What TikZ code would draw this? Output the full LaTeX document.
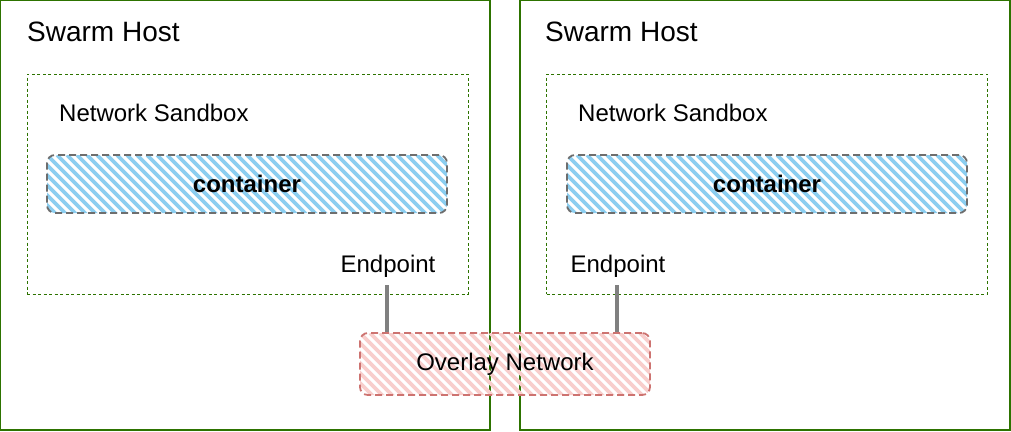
\documentclass[tikz,border=0pt]{standalone}
\usepackage{fontspec}
\setmainfont{Liberation Sans}
\definecolor{hostgreen}{RGB}{45,115,0}
\definecolor{hatchblue}{RGB}{140,206,240}
\definecolor{hatchpink}{RGB}{248,206,204}
\definecolor{ovborder}{RGB}{205,115,112}
\definecolor{cborder}{RGB}{110,110,110}
\definecolor{conngray}{RGB}{128,128,128}
\tikzset{
  host/.style={draw=hostgreen, line width=1.3pt, minimum width=490pt, minimum height=430pt, inner sep=0pt},
  sandbox/.style={draw=hostgreen, line width=0.9pt, dash pattern=on 3pt off 2.5pt, minimum width=441pt, minimum height=220pt, inner sep=0pt},
  hatch/.style={path picture={\foreach \i in {-80,-70,...,420}{\draw[solid, line width=3.6pt, line cap=butt, #1] ([xshift=\i pt]path picture bounding box.north west) -- ++(80,80);}}},
  cont/.style={hatch=hatchblue, draw=cborder, line width=1.8pt, dash pattern=on 7pt off 4pt, rounded corners=8pt, minimum width=400pt, minimum height=58pt, inner sep=0pt, font=\fontsize{24}{28}\selectfont\bfseries},
  overlay/.style={hatch=hatchpink, draw=ovborder, line width=1.8pt, dash pattern=on 7pt off 4pt, rounded corners=8pt, minimum width=290pt, minimum height=62pt, inner sep=0pt, font=\fontsize{24}{28}\selectfont},
  title/.style={font=\fontsize{28}{32}\selectfont, inner sep=0pt},
  label/.style={font=\fontsize{24}{28}\selectfont, inner sep=0pt},
  conn/.style={draw=conngray, line width=3.5pt}
}
\begin{document}
\begin{tikzpicture}[x=1pt,y=-1pt]
\useasboundingbox[fill=white] (0,0) rectangle (1011,431);
% hosts
\node[host] (h1) at (245,215) {};
\node[host] (h2) at (765,215) {};
\node[title, anchor=base west] (t1) at (27,41) {Swarm Host};
\node[title, anchor=base west] (t2) at (545,41) {Swarm Host};
% sandboxes
\node[sandbox] (s1) at (247.5,184) {};
\node[sandbox] (s2) at (767,184) {};
\node[label, anchor=base west] (sl1) at (59,121) {Network Sandbox};
\node[label, anchor=base west] (sl2) at (578,121) {Network Sandbox};
% containers
\node[cont] (c1) at (247,184) {container};
\node[cont] (c2) at (767,184) {container};
% endpoints
\node[label, anchor=base] (ep1) at (388,272) {Endpoint};
\node[label, anchor=base] (ep2) at (618,272) {Endpoint};
% overlay network
\node[overlay] (ov) at (505,364) {Overlay Network};
\draw[conn] ([xshift=-1pt,yshift=-13pt]ep1.base) -- ([xshift=-1pt]ov.north -| ep1.base);
\draw[conn] ([xshift=-1pt,yshift=-13pt]ep2.base) -- ([xshift=-1pt]ov.north -| ep2.base);
\end{tikzpicture}
\end{document}
